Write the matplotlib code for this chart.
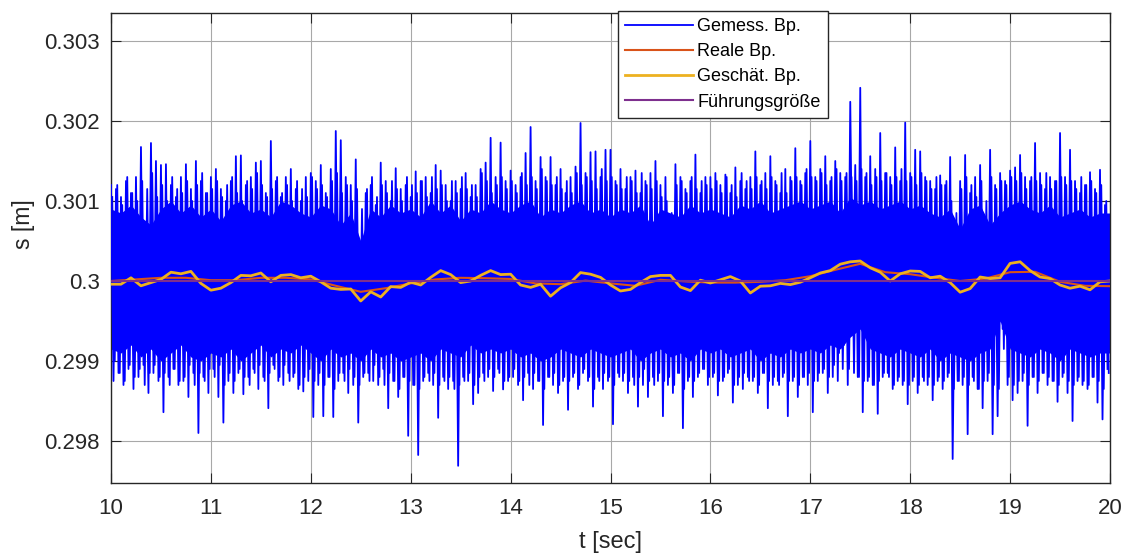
import numpy as np
import matplotlib
matplotlib.use('Agg')
import matplotlib.pyplot as plt

plt.rcParams['font.family'] = ['Liberation Sans', 'DejaVu Sans']

# Abweichung von 0.3 m in Mikrometer
# Gemessene Bp.: obere Spitzen (t = 10.000, 10.050, ...) und untere Spitzen (t = 10.025, 10.075, ...)
gemessOben = [
    1200, 1150, 1050, 1250, 1100, 1300, 1675, 600, 1725, 1500,
    1450, 1460, 1200, 1050, 1300, 1460, 1150, 1500, 1250, 1100,
    1300, 1400, 1150, 1000, 1250, 1560, 1570, 1200, 1300, 1480,
    1500, 1100, 1750, 1250, 1050, 1300, 1400, 1150, 1000, 1300,
    1350, 1250, 1450, 1100, 1400, 1875, 1760, 1300, 1200, 1520,
    300, 1100, 1200, 950, 1480, 1250, 1000, 1410, 1150, 1200,
    1050, 1370, 1250, 1300, 1100, 1450, 1380, 1200, 1000, 1250,
    1150, 1350, 1050, 1200, 1400, 1480, 1790, 1300, 1730, 1250,
    1380, 1200, 1300, 1600, 1925, 1250, 1550, 1300, 1550, 1200,
    1400, 1100, 1300, 1430, 1975, 1350, 1610, 1620, 1300, 1640,
    1640, 1250, 1400, 1150, 1300, 1380, 1100, 1250, 1350, 1500,
    1200, 1300, 400, 1460, 1300, 1150, 1250, 1580, 1100, 1300,
    1300, 1350, 1200, 1330, 1100, 1420, 1250, 1150, 1300, 1620,
    1200, 1350, 1560, 1250, 1100, 1400, 1300, 1660, 1250, 1350,
    1750, 1300, 1400, 1560, 1250, 1500, 1350, 1300, 2240, 1450,
    2415, 1300, 1560, 1400, 1850, 1350, 1300, 1670, 1250, 1980,
    1350, 1640, 1620, 1300, 1250, 1150, 1320, 1200, 1550, 680,
    1250, 1575, 1100, 1300, 1450, 720, 1640, 1200, 1350, 1250,
    1380, 1420, 1575, 1300, 1250, 1725, 1350, 1150, 1300, 1250,
    1850, 1300, 1640, 1250, 1100, 1200, 1360, 1150, 1390, 950,
]
gemessUnten = [
    -1250, -1150, -1300, -1100, -1350, -1200, -1050, -1400, -1150, -1250,
    -1640, -1200, -1100, -1300, -1250, -1450, -1150, -1900, -1200, -1400,
    -1100, -1450, -1770, -1250, -1400, -1150, -1415, -1200, -1100, -1350,
    -1200, -1590, -1050, -1250, -1300, -1150, -1200, -1350, -1380, -1250,
    -1700, -1300, -1690, -1200, -1700, -1250, -1150, -1400, -1300, -1770,
    -1200, -1150, -1250, -1300, -1100, -1590, -1250, -1450, -1200, -1935,
    -1300, -2175, -1250, -1150, -1300, -1710, -1200, -1350, -1250, -2310,
    -1200, -1250, -1540, -1400, -1150, -1200, -1375, -1100, -1355, -1250,
    -1200, -1300, -1490, -1150, -1350, -1250, -1800, -1200, -1300, -1400,
    -1250, -1610, -1200, -1350, -1150, -1250, -1570, -1200, -1350, -1250,
    -1790, -1150, -1250, -1400, -1200, -1570, -1300, -1450, -1200, -1250,
    -1690, -1300, -1400, -1150, -1840, -1250, -1450, -1200, -1100, -1300,
    -1200, -1430, -1250, -1150, -1520, -1300, -1350, -1200, -1250, -1400,
    -1150, -1590, -1300, -1250, -1200, -1690, -1250, -1450, -1200, -1300,
    -1640, -1250, -1150, -1400, -1200, -1250, -1100, -1300, -500, -1200,
    -1640, -1250, -1300, -1660, -1200, -1150, -1350, -1250, -1300, -1540,
    -1250, -1400, -1200, -1300, -1490, -1250, -1350, -1200, -2225, -1250,
    -1300, -1915, -1200, -1350, -1590, -1250, -1915, -1690, -600, -1300,
    -1490, -1400, -1250, -1810, -1200, -1400, -1150, -1300, -1250, -1510,
    -1200, -1400, -1750, -1250, -1300, -1350, -1200, -1520, -1730, -1100,
]
# Zwischenwerte (t = 10.0125, 10.0625, ... oben und 10.0375, 10.0875, ... unten)
zwischenOben = [
    1050, 1200, 950, 1300, 1100, 1000, 1250, 1150, 1350, 1050,
    1200, 1000, 1300, 1150, 1100, 1250, 1000, 1200, 1350, 1100,
    1150, 1250, 1050, 1200, 1300, 1100, 1000, 1250, 1150, 1350,
    1200, 1050, 1150, 1300, 1100, 1200, 1000, 1250, 1150, 1050,
    1300, 1150, 1200, 1050, 1250, 1350, 1100, 1200, 1000, 1150,
    900, 1150, 1300, 1050, 1200, 1100, 1250, 1150, 1000, 1300,
    1200, 1100, 1250, 1050, 1300, 1150, 1200, 1000, 1250, 1100,
    1300, 1150, 1200, 1050, 1350, 1250, 1100, 1200, 1300, 1150,
    1250, 1100, 1350, 1200, 1300, 1150, 1400, 1250, 1200, 1300,
    1150, 1250, 1100, 1350, 1200, 1300, 1250, 1150, 1400, 1250,
    1300, 1200, 1150, 1300, 1250, 1100, 1350, 1200, 1150, 1250,
    1050, 1000, 850, 1200, 1250, 1100, 1300, 1150, 1250, 1200,
    1150, 1250, 1100, 1300, 1200, 1050, 1350, 1250, 1150, 1300,
    1250, 1150, 1300, 1200, 1350, 1100, 1250, 1300, 1200, 1400,
    1300, 1250, 1350, 1200, 1300, 1400, 1250, 1350, 1300, 1250,
    1400, 1350, 1200, 1300, 1250, 1350, 1200, 1300, 1400, 1250,
    1300, 1200, 1350, 1250, 1150, 1300, 1200, 1250, 1000, 850,
    1150, 1300, 1200, 1050, 1250, 1000, 1300, 1150, 1250, 1200,
    1300, 1250, 1350, 1150, 1300, 1250, 1200, 1350, 1150, 1250,
    1300, 1200, 1250, 1150, 1300, 1200, 1250, 1100, 1200, 1000,
]
zwischenUnten = [
    -1000, -1150, -1250, -1050, -1200, -1100, -1300, -1150, -1050, -1200,
    -1150, -1300, -1100, -1250, -1200, -1050, -1300, -1150, -1250, -1100,
    -1200, -1050, -1300, -1150, -1250, -1100, -1200, -1300, -1150, -1050,
    -1250, -1150, -1100, -1200, -1050, -1250, -1150, -1300, -1200, -1100,
    -1250, -1150, -1300, -1200, -1350, -1150, -1250, -1100, -1200, -1300,
    -1150, -1250, -1050, -1200, -1300, -1150, -1250, -1350, -1200, -1250,
    -1300, -1350, -1200, -1250, -1150, -1300, -1250, -1200, -1350, -1300,
    -1250, -1150, -1300, -1200, -1250, -1100, -1200, -1150, -1250, -1200,
    -1100, -1250, -1200, -1300, -1150, -1250, -1350, -1200, -1150, -1300,
    -1200, -1250, -1150, -1300, -1100, -1200, -1350, -1250, -1150, -1200,
    -1300, -1200, -1150, -1250, -1300, -1200, -1100, -1250, -1300, -1150,
    -1250, -1200, -1300, -1150, -1350, -1200, -1250, -1150, -1100, -1200,
    -1150, -1250, -1200, -1100, -1300, -1200, -1150, -1250, -1200, -1300,
    -1150, -1250, -1200, -1300, -1150, -1250, -1200, -1300, -1200, -1150,
    -1250, -1150, -1100, -1200, -1050, -900, -800, -1100, -1150, -1200,
    -1250, -1200, -1300, -1250, -1150, -1200, -1300, -1200, -1250, -1300,
    -1200, -1300, -1250, -1200, -1300, -1200, -1250, -1150, -1350, -1250,
    -1200, -1300, -1250, -1350, -1250, -1150, -1300, -1350, -850, -1200,
    -1300, -1250, -1150, -1300, -1200, -1250, -1150, -1200, -1250, -1300,
    -1150, -1250, -1300, -1200, -1250, -1300, -1200, -1250, -1350, -1150,
]
# dichter Kern des Rauschbands (t = 10.0, 10.1, ..., 20.0)
kernOben = [
    900, 850, 950, 800, 700, 900, 1000, 850, 950, 800,
    900, 750, 950, 1000, 850, 900, 800, 1000, 950, 850,
    800, 950, 900, 700, 850, 500, 900, 800, 950, 850,
    900, 800, 1000, 850, 950, 750, 900, 850, 1000, 900,
    850, 950, 1000, 800, 900, 850, 950, 1000, 850, 900,
    800, 900, 850, 950, 700, 900, 850, 800, 950, 850,
    900, 850, 800, 950, 900, 1000, 850, 900, 950, 1000,
    900, 950, 1000, 850, 1050, 950, 1000, 900, 950, 1000,
    900, 950, 850, 800, 900, 650, 900, 950, 700, 850,
    950, 1000, 900, 850, 950, 800, 850, 900, 800, 850,
    850,
]
kernUnten = [
    -850, -900, -800, -950, -850, -1000, -900, -800, -950, -1000,
    -900, -950, -850, -1000, -900, -800, -950, -850, -900, -800,
    -900, -1000, -850, -950, -900, -1000, -850, -950, -900, -1000,
    -950, -900, -1000, -850, -900, -950, -800, -900, -850, -900,
    -850, -950, -900, -1000, -950, -850, -900, -950, -850, -900,
    -950, -900, -850, -1000, -900, -850, -950, -900, -1000, -850,
    -900, -850, -950, -900, -850, -1000, -900, -950, -850, -900,
    -850, -900, -800, -850, -700, -600, -850, -900, -950, -850,
    -900, -950, -850, -1000, -900, -950, -1000, -900, -850, -500,
    -850, -900, -950, -850, -900, -1000, -850, -900, -950, -900,
    -900,
]

# Reale Bp. (t = 10.00, 10.25, ..., 20.00)
realeBp = [0, 20, 40, 40, 10, 10, 40, 40, 20, -60, -135, -90, -30, 20, 40, 35, 25,
           -30, -40, 5, -30, -60, 15, -5, -20, -20, -10, 10, 60, 140, 215, 110, 85,
           40, 0, 30, 110, 115, -10, -60, -65]

# Geschätzte Bp. (t = 10.0, 10.1, ..., 20.0)
geschaetztBp = [
    -40, -40, 40, -60, -20, 20, 110, 90, 120, -30,
    -115, -90, -20, 70, 65, 100, -10, 70, 80, 40,
    60, -10, -90, -105, -100, -250, -135, -200, -70, -80,
    -15, -50, 45, 130, 80, -20, 0, 70, 130, 80,
    85, -50, -80, -40, -190, -85, -20, 105, 85, 45,
    -50, -125, -105, -20, 55, 70, 70, -75, -120, 10,
    -25, 15, 55, 0, -150, -65, -60, -30, -45, -15,
    40, 100, 130, 210, 240, 250, 165, 110, 0, 90,
    125, 120, 40, 60, -20, -140, -95, 50, 30, 40,
    220, 240, 130, 50, 30, -50, -90, -65, -110, -10,
    0,
]

fuehrungT = [10, 20]
fuehrung = [0.3, 0.3]

s0 = 0.3


def zickzack(oben, unten, t0):
    n = min(len(oben), len(unten))
    t = np.empty(2 * n)
    s = np.empty(2 * n)
    t[0::2] = t0 + 0.05 * np.arange(n)
    t[1::2] = t0 + 0.025 + 0.05 * np.arange(n)
    s[0::2] = s0 + np.array(oben[:n]) * 1e-6
    s[1::2] = s0 + np.array(unten[:n]) * 1e-6
    return t, s


tMess, sMess = zickzack(gemessOben, gemessUnten, 10.0)
tZw, sZw = zickzack(zwischenOben, zwischenUnten, 10.0125)

tKern = 10 + 0.1 * np.arange(len(kernOben))
tReal = 10 + 0.25 * np.arange(len(realeBp))
tSchaetz = 10 + 0.1 * np.arange(len(geschaetztBp))

fig = plt.figure(figsize=(11.26, 5.57), dpi=100)
ax = fig.add_axes([111 / 1126, 74 / 557, 999 / 1126, 470 / 557])

ax.fill_between(tKern, s0 + np.array(kernUnten) * 1e-6, s0 + np.array(kernOben) * 1e-6,
                color='#0000ff', lw=0, zorder=2)
ax.plot(tZw, sZw, color='#0000ff', lw=1.3, zorder=2.5)
ax.plot(tMess, sMess, color='#0000ff', lw=1.3, label='Gemess. Bp.', zorder=3)
ax.plot(tReal, s0 + np.array(realeBp) * 1e-6, color='#d95319', lw=1.5, label='Reale Bp.', zorder=4)
ax.plot(tSchaetz, s0 + np.array(geschaetztBp) * 1e-6, color='#edb120', lw=2, label='Geschät. Bp.', zorder=5)
ax.plot(fuehrungT, fuehrung, color='#7e2f8e', lw=1.5, label='Führungsgröße', zorder=6)

ax.set_xlim(10, 20)
ax.set_ylim(0.297475, 0.30335)
ax.set_xticks(range(10, 21))
ax.set_yticks([0.298, 0.299, 0.3, 0.301, 0.302, 0.303])
ax.set_yticklabels(['0.298', '0.299', '0.3', '0.301', '0.302', '0.303'])
ax.grid(True, color='#a8a8a8', lw=0.8)
ax.set_axisbelow(True)
ax.tick_params(direction='in', length=7, width=0.8, top=True, right=True, colors='#262626')
ax.tick_params(axis='y', labelsize=16, pad=8)
ax.tick_params(axis='x', labelsize=16, pad=11)
for sp in ax.spines.values():
    sp.set_color('#262626')
    sp.set_linewidth(1.0)

ax.set_xlabel('t [sec]', fontsize=17, color='#262626')
ax.xaxis.set_label_coords(0.5, -0.102)
ax.set_ylabel('s [m]', fontsize=16.5, color='#262626')
ax.yaxis.set_label_coords(-0.076, 0.55)

leg = ax.legend(loc='upper left', bbox_to_anchor=(618 / 1126, 546 / 557), bbox_transform=fig.transFigure,
                borderaxespad=0, fancybox=False, framealpha=1, edgecolor='#262626',
                handlelength=3.75, handletextpad=0.25, labelspacing=0.45, borderpad=0.4, fontsize=13)
leg.get_frame().set_linewidth(1.0)

plt.savefig('out.png', dpi=100)
